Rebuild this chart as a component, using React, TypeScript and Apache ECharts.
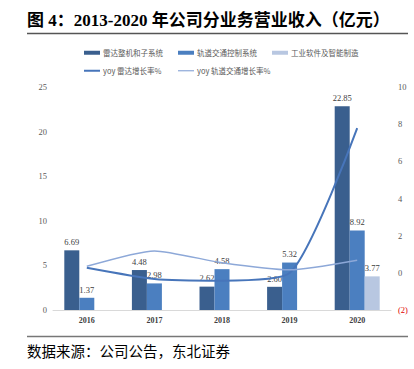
import React, { useEffect, useRef } from "react";
import * as echarts from "echarts";

const categories = ["2016", "2017", "2018", "2019", "2020"];
const radarRevenue = [6.69, 4.48, 2.62, 2.6, 22.85];
const railRevenue = [1.37, 2.98, 4.58, 5.32, 8.92];
const softwareRevenue = [null, null, null, null, 3.77];
const radarYoy = [0.27, -0.33, -0.42, -0.01, 7.79];
const railYoy = [0.35, 1.18, 0.54, 0.16, 0.68];

const seriesNames = [
  "雷达整机和子系统",
  "轨道交通控制系统",
  "工业软件及智能制造",
  "yoy 雷达增长率%",
  "yoy 轨道交通增长率%",
];

const C_DARK = "#3A5F8E";
const C_MID = "#4B7FC0";
const C_LIGHT = "#B8C7E1";
const C_LINE1 = "#4775BA";
const C_LINE2 = "#8DA8D8";

const SERIF = "'Liberation Serif', 'Noto Sans CJK SC', serif";
const CJK = "'Noto Sans CJK SC', 'Liberation Serif', serif";

export default function App() {
  const ref = useRef<HTMLDivElement>(null);
  useEffect(() => {
    if (!ref.current) return;
    const chart = echarts.init(ref.current, null, { renderer: "svg" });
    const legendPos = [
      { left: 84, top: 49 },
      { left: 178, top: 49 },
      { left: 272, top: 49 },
      { left: 84, top: 66 },
      { left: 178, top: 66 },
    ];
    const iconHeights = [4, 4, 4, 2, 1.2];
    const legends = seriesNames.map((n, i) => ({
      data: [n],
      left: legendPos[i].left,
      top: legendPos[i].top + (i < 3 ? 0 : 1),
      itemWidth: 16,
      itemHeight: iconHeights[i],
      itemGap: 0,
      padding: 0,
      icon: "rect",
      textStyle: { fontSize: 7.5, color: "#595959", fontFamily: CJK, padding: [0, 0, 0, -2] },
    }));
    const labelStyle = {
      show: true,
      position: "top" as const,
      distance: 4,
      fontSize: 8.5,
      color: "#404040",
      fontFamily: SERIF,
      formatter: (p: any) => (p.value == null ? "" : Number(p.value).toFixed(2)),
    };
    chart.setOption({
      animation: false,
      legend: legends,
      grid: { left: 53, right: 23, top: 87, bottom: 59 },
      xAxis: {
        type: "category",
        data: categories,
        axisLine: { lineStyle: { color: "#D9D9D9", width: 1 } },
        axisTick: { show: false },
        axisLabel: { fontSize: 8, color: "#404040", fontFamily: SERIF, fontWeight: "bold", margin: 6 },
      },
      yAxis: [
        {
          type: "value",
          min: 0,
          max: 25,
          interval: 5,
          splitLine: { show: false },
          axisLine: { show: false },
          axisTick: { show: false },
          axisLabel: { fontSize: 8.5, color: "#595959", fontFamily: SERIF, margin: 6 },
        },
        {
          type: "value",
          min: -2,
          max: 10,
          interval: 2,
          splitLine: { show: false },
          axisLine: { show: false },
          axisTick: { show: false },
          axisLabel: {
            fontSize: 8.5,
            color: "#595959",
            fontFamily: SERIF,
            margin: 7,
            formatter: (v: number) => (v < 0 ? "{r|(" + Math.abs(v) + ")}" : String(v)),
            rich: { r: { color: "#E00000", fontSize: 8.5, fontFamily: SERIF } },
          },
        },
      ],
      series: [
        {
          name: seriesNames[0],
          type: "bar",
          data: radarRevenue,
          barWidth: 15,
          barGap: "0%",
          itemStyle: { color: C_DARK },
          label: labelStyle,
        },
        {
          name: seriesNames[1],
          type: "bar",
          data: railRevenue,
          barWidth: 15,
          barGap: "0%",
          itemStyle: { color: C_MID },
          label: labelStyle,
        },
        {
          name: seriesNames[2],
          type: "bar",
          data: softwareRevenue,
          barWidth: 15,
          barGap: "0%",
          itemStyle: { color: C_LIGHT },
          label: labelStyle,
        },
        {
          name: seriesNames[3],
          type: "line",
          yAxisIndex: 1,
          data: radarYoy,
          smooth: 0.22,
          symbol: "none",
          lineStyle: { color: C_LINE1, width: 2 },
          itemStyle: { color: C_LINE1 },
          z: 5,
        },
        {
          name: seriesNames[4],
          type: "line",
          yAxisIndex: 1,
          data: railYoy,
          smooth: 0.2,
          symbol: "none",
          lineStyle: { color: C_LINE2, width: 1.5 },
          itemStyle: { color: C_LINE2 },
          z: 5,
        },
      ],
      graphic: [
        {
          type: "text",
          left: 27,
          top: 12,
          style: {
            text: "图 4：2013-2020 年公司分业务营业收入（亿元）",
            fontSize: 17,
            fontWeight: "bold",
            fontFamily: SERIF,
            fill: "#000",
          },
        },
        {
          type: "line",
          shape: { x1: 27, y1: 33.5, x2: 408, y2: 33.5 },
          style: { stroke: "#555", lineWidth: 1.5 },
        },
        {
          type: "line",
          shape: { x1: 27, y1: 336.5, x2: 408, y2: 336.5 },
          style: { stroke: "#777", lineWidth: 1.5 },
        },
        {
          type: "text",
          left: 27,
          top: 343,
          style: {
            text: "数据来源：公司公告，东北证券",
            fontSize: 14.5,
            fontFamily: CJK,
            fill: "#000",
          },
        },
      ],
    });
    return () => chart.dispose();
  }, []);
  return (
    <div
      ref={ref}
      style={{ position: "fixed", left: 0, top: 0, width: 414, height: 369, background: "#fff" }}
    />
  );
}
